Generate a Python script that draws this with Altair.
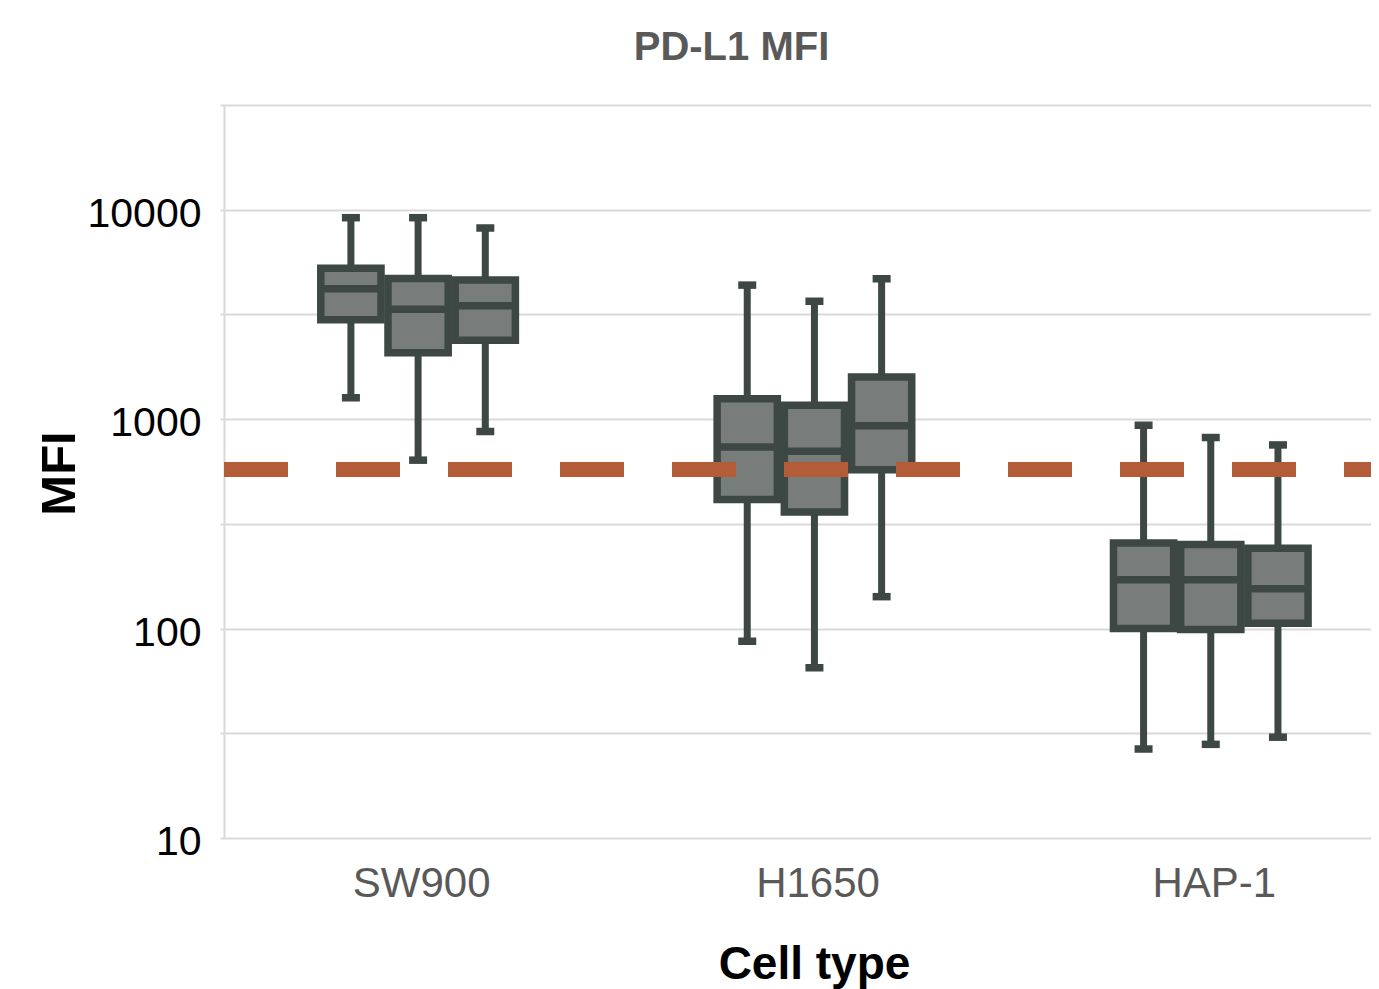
import altair as alt
import pandas as pd

# ---- data ----
cells = ["SW900", "H1650", "HAP-1"]
groups = ["1", "2", "3"]
whisker_low = [1265, 637, 873, 87, 65, 142, 26.6, 28, 30.3]
q1 = [2980, 2075, 2380, 413, 360, 574, 100, 99, 106]
median = [4190, 3350, 3475, 736, 703, 929, 171, 171, 155]
q3 = [5250, 4690, 4620, 1250, 1164, 1590, 256, 252, 242]
whisker_high = [9160, 9160, 8170, 4365, 3655, 4680, 935, 817, 753]
threshold = [575]
y_grid_values = [10, 31.6227766, 100, 316.227766, 1000, 3162.27766, 10000, 31622.7766]
y_label_values = [10, 100, 1000, 10000]

rows = []
for i, c in enumerate(cells):
    for j, g in enumerate(groups):
        k = i * len(groups) + j
        rows.append(dict(cell=c, grp=g, lo=whisker_low[k], q1=q1[k], med=median[k],
                         q3=q3[k], hi=whisker_high[k]))
df = pd.DataFrame(rows)
thr_df = pd.DataFrame({"v": threshold})

DARK = "#3d4743"
FILL = "#787c7a"
ORANGE = "#b45c38"
GRID = "#d9d9d9"
FONT = "Liberation Sans"
PLOT_W = 1147
PLOT_H = 733

yscale = alt.Scale(type="log", domain=[10, 31623], nice=False)

xenc = alt.X(
    "cell:N", sort=cells,
    scale=alt.Scale(range=[-4, 1185], paddingInner=0, paddingOuter=0),
    axis=alt.Axis(
        title="Cell type", domain=False, ticks=False, grid=False,
        labelFontSize=42, labelColor="#595959", labelFont=FONT, labelAngle=0,
        labelBaseline="alphabetic", labelPadding=58, labelOffset=3.5,
        titleFontSize=46, titleFontWeight="bold", titleColor="#000000", titleFont=FONT,
        titleX=590, titleY=140, titleBaseline="alphabetic", titleAlign="center",
    ),
)
xoff = alt.XOffset("grp:N", sort=groups,
                   scale=alt.Scale(range=[100.8, 295.4], paddingInner=0.104, paddingOuter=0))

yaxis = alt.Axis(
    title="MFI", values=y_grid_values,
    labelExpr="indexof([10,100,1000,10000], datum.value) >= 0 ? format(datum.value, 'd') : ''",
    grid=True, gridColor=GRID, gridWidth=2, domain=True, domainColor=GRID, domainWidth=2,
    ticks=False, labelFontSize=41, labelColor="#000000", labelFont=FONT, labelPadding=23,
    labelBaseline="alphabetic", labelOffset=16.5,
    titleFontSize=49, titleFontWeight="bold", titleColor="#000000", titleFont=FONT,
    titleX=-150, titleY=368, titleBaseline="alphabetic", titleAlign="center", titleAngle=-90,
)

base = alt.Chart(df).encode(x=xenc, xOffset=xoff)

whisker = base.mark_rule(color=DARK, strokeWidth=7).encode(
    y=alt.Y("lo:Q", scale=yscale, axis=yaxis), y2="hi:Q")
cap_lo = base.mark_tick(color=DARK, thickness=7.5, size=18, opacity=1).encode(
    y=alt.Y("lo:Q", scale=yscale))
cap_hi = base.mark_tick(color=DARK, thickness=7.5, size=18, opacity=1).encode(
    y=alt.Y("hi:Q", scale=yscale))
box = base.mark_bar(fill=FILL, fillOpacity=1, stroke=DARK, strokeWidth=7.5).encode(
    y=alt.Y("q1:Q", scale=yscale), y2="q3:Q")
med = base.mark_tick(color=DARK, thickness=7.5, size=60, opacity=1).encode(
    y=alt.Y("med:Q", scale=yscale))
thr = alt.Chart(thr_df).mark_rule(color=ORANGE, strokeWidth=15, strokeDash=[64, 48],
                                  strokeCap="butt").encode(
    y=alt.Y("v:Q", scale=yscale), x=alt.value(0), x2=alt.value(PLOT_W))

chart = alt.layer(whisker, cap_lo, cap_hi, box, med, thr).properties(
    width=PLOT_W, height=PLOT_H,
    title=alt.TitleParams("PD-L1 MFI", fontSize=40, fontWeight="bold", color="#595959",
                          font=FONT, anchor="middle", frame="group", offset=5,
                          baseline="alphabetic", dx=-66),
    autosize=alt.AutoSizeParams(type="none"),
    padding={"left": 216, "top": 97, "right": 0, "bottom": 165},
).configure_view(stroke=None).configure(background="white")

chart.save("out.html", embed_options={"renderer": "svg", "actions": False})
